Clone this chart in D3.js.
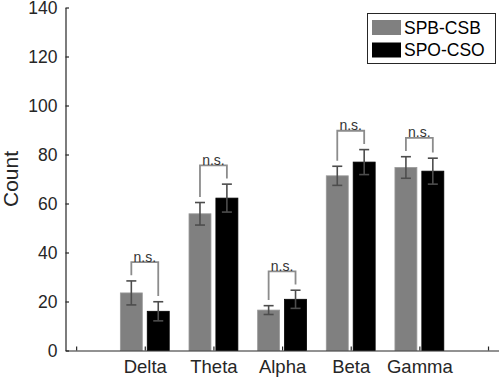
<!DOCTYPE html>
<html>
<head>
<meta charset="utf-8">
<script src="https://cdn.jsdelivr.net/npm/d3@7"></script>
<style>
  body { margin: 0; background: #fff; }
  svg { display: block; font-family: "Liberation Sans", Arial, Helvetica, sans-serif; }
</style>
</head>
<body>
<svg id="chart"></svg>
<script>
// data
const categories = ["Delta", "Theta", "Alpha", "Beta", "Gamma"];
const seriesNames = ["SPB-CSB", "SPO-CSO"];
const spbMean = [23.5, 55.8, 16.5, 71.3, 74.7];
const spbErr = [4.9, 4.6, 1.8, 3.9, 4.4];
const spoMean = [16.0, 62.2, 20.9, 76.9, 73.2];
const spoErr = [3.9, 5.7, 3.7, 5.1, 5.3];
const sigLabels = ["n.s.", "n.s.", "n.s.", "n.s.", "n.s."];
const yTicks = [0, 20, 40, 60, 80, 100, 120, 140];
const xTickPos = [0, 1, 2, 3, 4, 5, 6];

const W = 499, H = 380;
const colors = ["#808080", "#000000"];

const svg = d3.select("#chart").attr("width", W).attr("height", H);

const x = d3.scaleLinear().domain([-0.155, 6.16]).range([65.5, 499]);
const y = d3.scaleLinear().domain([0, 140]).range([350.5, 7.5]);

const barW = 0.32;   // in x units
const offset = 0.196;

// rows: one per bar
const rows = [];
categories.forEach((c, i) => {
  rows.push({ cat: c, i, s: 0, v: spbMean[i], e: spbErr[i] });
  rows.push({ cat: c, i, s: 1, v: spoMean[i], e: spoErr[i] });
});
const cx = d => x(d.i + 1 + (d.s === 0 ? -offset : offset));

// bars
svg.selectAll(".bar")
  .data(rows)
  .join("rect")
  .attr("class", "bar")
  .attr("x", d => cx(d) - (x(barW) - x(0)) / 2)
  .attr("width", x(barW) - x(0))
  .attr("y", d => y(d.v))
  .attr("height", d => y(0) - y(d.v))
  .attr("fill", d => colors[d.s])
  .attr("stroke", d => d.s === 0 ? "#9a9a9a" : "#000")
  .attr("stroke-width", 0.8);

// error bars
const capHalf = 5;
const eb = svg.selectAll(".err").data(rows).join("g").attr("class", "err")
  .attr("stroke", "#4d4d4d").attr("stroke-width", 1.6).attr("fill", "none");
eb.append("line")
  .attr("x1", cx).attr("x2", cx)
  .attr("y1", d => y(d.v + d.e)).attr("y2", d => y(d.v - d.e));
eb.append("line")
  .attr("x1", d => cx(d) - capHalf).attr("x2", d => cx(d) + capHalf)
  .attr("y1", d => y(d.v + d.e)).attr("y2", d => y(d.v + d.e));
eb.append("line")
  .attr("x1", d => cx(d) - capHalf).attr("x2", d => cx(d) + capHalf)
  .attr("y1", d => y(d.v - d.e)).attr("y2", d => y(d.v - d.e));

// significance brackets
categories.forEach((c, i) => {
  const t0 = spbMean[i] + spbErr[i];
  const t1 = spoMean[i] + spoErr[i];
  const top = Math.max(t0, t1) + 7.7;
  const x0 = x(i + 1 - offset), x1 = x(i + 1 + offset);
  svg.append("path")
    .attr("d", `M${x0},${y(t0 + 2.3)}V${y(top)}H${x1}V${y(t1 + 2.3)}`)
    .attr("fill", "none")
    .attr("stroke", "#8c8c8c")
    .attr("stroke-width", 1.8);
  svg.append("text")
    .attr("x", (x0 + x1) / 2)
    .attr("y", y(top) - 0.5)
    .attr("text-anchor", "middle")
    .attr("font-size", 14)
    .attr("fill", "#333")
    .text(sigLabels[i]);
});

// axes
const xAxis = d3.axisBottom(x)
  .tickValues(xTickPos)
  .tickSize(-4)
  .tickSizeOuter(0)
  .tickPadding(9)
  .tickFormat(d => (d >= 1 && d <= categories.length) ? categories[d - 1] : "");
const gx = svg.append("g")
  .attr("transform", `translate(0,${y(0)})`)
  .call(xAxis);

const yAxis = d3.axisLeft(y)
  .tickValues(yTicks)
  .tickSize(-3.5)
  .tickSizeOuter(0)
  .tickPadding(8);
const gy = svg.append("g")
  .attr("transform", `translate(${x(-0.155)},0)`)
  .call(yAxis);

[gx, gy].forEach(g => {
  g.select(".domain").attr("stroke", "#262626").attr("stroke-width", 1.2);
  g.selectAll(".tick line").attr("stroke", "#262626").attr("stroke-width", 1.2);
  g.selectAll(".tick text")
    .attr("fill", "#262626")
    .attr("font-size", 18)
    .attr("font-family", "Liberation Sans, Arial, sans-serif");
});
gx.selectAll(".tick text").attr("dy", "0.71em").attr("font-size", 18.5);
gy.selectAll(".tick text").attr("dy", "0.37em").attr("font-size", 17.5);

// y label
svg.append("text")
  .attr("transform", `translate(18,${(y(0) + y(140)) / 2}) rotate(-90)`)
  .attr("text-anchor", "middle")
  .attr("font-size", 21)
  .attr("fill", "#262626")
  .text("Count");

// legend
const lg = svg.append("g");
lg.append("rect")
  .attr("x", 367.5).attr("y", 13.5)
  .attr("width", 128).attr("height", 50)
  .attr("fill", "#fff").attr("stroke", "#262626").attr("stroke-width", 1);
seriesNames.forEach((n, k) => {
  lg.append("rect")
    .attr("x", 372).attr("y", 20 + k * 22.5)
    .attr("width", 29).attr("height", 15)
    .attr("fill", colors[k]);
  lg.append("text")
    .attr("x", 404).attr("y", 33.5 + k * 22.5)
    .attr("font-size", 17.5)
    .attr("fill", "#000")
    .text(n);
});
</script>
</body>
</html>
